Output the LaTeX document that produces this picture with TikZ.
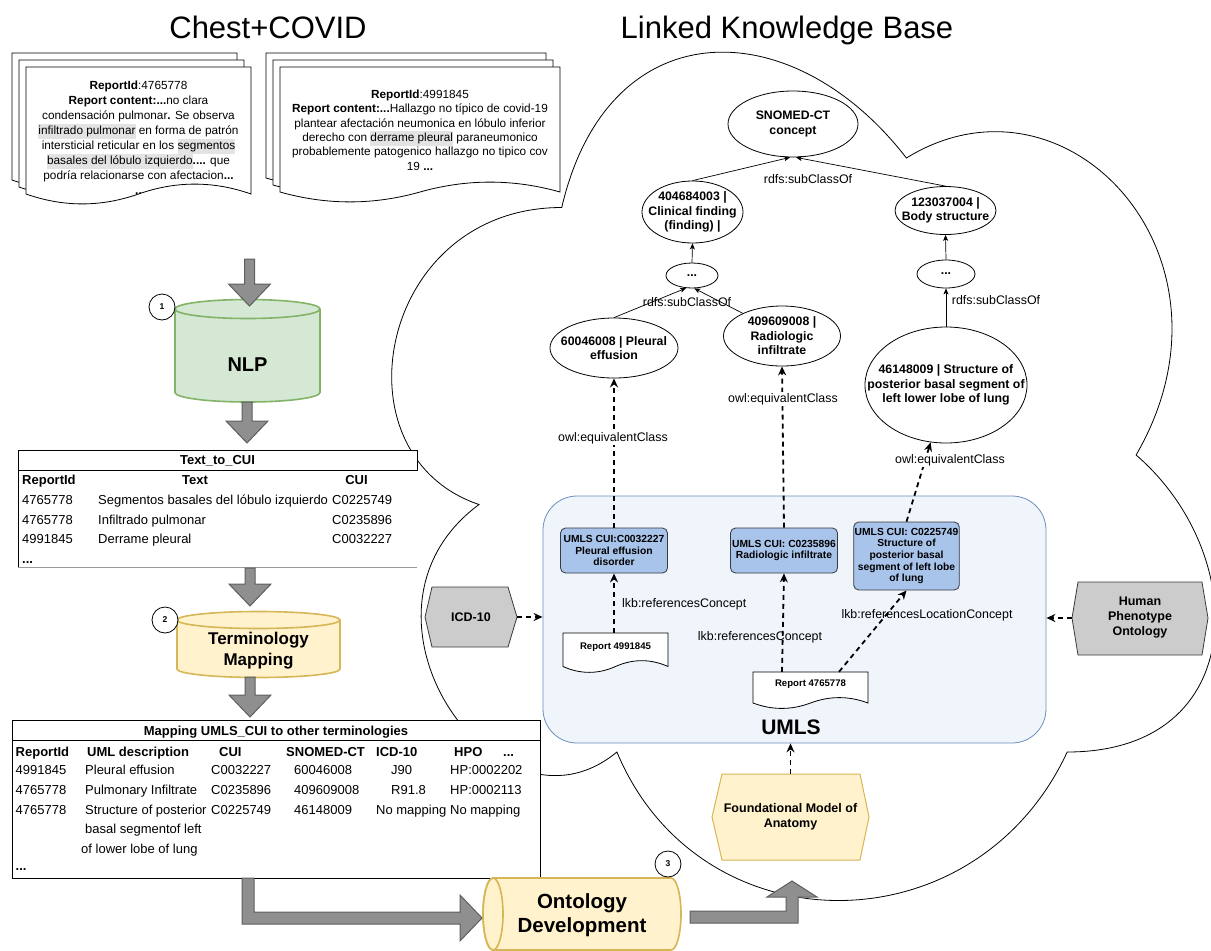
\documentclass[tikz,border=0pt]{standalone}
\usepackage{fontspec}
\setmainfont{Liberation Sans}
\usetikzlibrary{arrows.meta,shapes.geometric,positioning}

\definecolor{nlpfill}{HTML}{D5E8D4}
\definecolor{nlpline}{HTML}{82B366}
\definecolor{yelfill}{HTML}{FFF2CC}
\definecolor{yelline}{HTML}{D6B656}
\definecolor{umlsfill}{HTML}{F0F5FB}
\definecolor{umlsline}{HTML}{6C8EBF}
\definecolor{cuifill}{HTML}{A9C4EB}
\definecolor{darkline}{HTML}{36393D}
\definecolor{hexgray}{HTML}{CCCCCC}
\definecolor{arrowgray}{HTML}{8F8F8F}
\definecolor{arrowline}{HTML}{5E5E5E}
\definecolor{hlgray}{HTML}{E3E3E3}
\definecolor{rulegray}{HTML}{999999}

\newcommand{\fsz}[2]{\fontsize{#1}{#2}\selectfont}
\newcommand{\hlt}[1]{{\setlength{\fboxsep}{0pt}\colorbox{hlgray}{\strut#1}}}

% sheet with a wavy bottom: x, y, width, height, wave
\newcommand{\docsheet}[5]{%
  \draw[sheet] (#1,#2) -- ({#1+#3},#2) -- ({#1+#3},{#2+#4-0.5*#5})
    .. controls ({#1+5*#3/6},{#2+#4-1.1*#5}) and ({#1+2*#3/3},{#2+#4-1.1*#5}) .. ({#1+#3/2},{#2+#4-0.5*#5})
    .. controls ({#1+#3/3},{#2+#4+0.1*#5}) and ({#1+#3/6},{#2+#4+0.1*#5}) .. (#1,{#2+#4-0.5*#5}) -- cycle;}

% big gray arrow pointing down: centre x, top, tip
\newcommand{\blockdown}[3]{%
  \draw[blockarrow] ({#1-5},#2) -- ({#1+5},#2) -- ({#1+5},{#3-22}) -- ({#1+21},{#3-22})
    -- (#1,#3) -- ({#1-21},{#3-22}) -- ({#1-5},{#3-22}) -- cycle;}

% upright cylinder: left, right, top, bottom, y radius, fill, line
\newcommand{\cylup}[7]{%
  \filldraw[fill=#6, draw=#7, line width=1.6pt] (#1,#3) -- (#1,#4)
    arc[start angle=180, end angle=0, x radius={(#2-#1)/2}, y radius=#5] -- (#2,#3)
    arc[start angle=0, end angle=-180, x radius={(#2-#1)/2}, y radius=#5] -- cycle;
  \draw[draw=#7, line width=1.6pt] (#1,#3)
    arc[start angle=180, end angle=0, x radius={(#2-#1)/2}, y radius=#5];}

\tikzset{
  cloudline/.style={draw=black, line width=0.8pt},
  titletext/.style={anchor=base, inner sep=0pt, font=\fsz{31}{36}},
  sheet/.style={draw=black, fill=white, line width=0.8pt},
  doctext/.style={align=center, inner sep=0pt, font=\fsz{11.8}{15}},
  blockarrow/.style={draw=arrowline, fill=arrowgray, line width=1pt},
  cyltext/.style={align=center, inner sep=0pt, font=\bfseries\fsz{20}{24}},
  numcirc/.style={circle, draw=black, fill=white, line width=0.8pt, minimum size=26pt, inner sep=0pt, font=\bfseries\fsz{8.5}{10}},
  tbl/.style={anchor=base west, inner sep=0pt, font=\fsz{13}{15}},
  tblhead/.style={tbl, font=\bfseries\fsz{13}{15}},
  tblline/.style={draw=black, line width=0.8pt},
  umlsbox/.style={draw=umlsline, fill=umlsfill, line width=0.8pt, rounded corners=34pt, minimum width=503pt, minimum height=247pt},
  oval/.style={ellipse, draw=black, fill=white, line width=0.8pt, inner sep=-90pt, align=center, font=\bfseries\fsz{12.3}{14.5}},
  cuibox/.style={draw=darkline, fill=cuifill, line width=0.8pt, rounded corners=5pt, align=center, inner sep=1pt, font=\bfseries\fsz{10.3}{11.7}},
  reptext/.style={inner sep=0pt, font=\bfseries\fsz{9.6}{11}},
  hexline/.style={draw=darkline, line width=0.8pt},
  hextext/.style={align=center, inner sep=0pt, font=\bfseries\fsz{12.5}{15}},
  elabel/.style={inner sep=1pt, font=\fsz{12.4}{14}},
  subcls/.style={-{Stealth[length=6pt,width=5pt,inset=1.5pt]}, line width=0.7pt},
  refarrow/.style={-{Stealth[length=9pt,width=8pt,inset=3pt]}, line width=1.8pt, dash pattern=on 5pt off 4pt},
}

\begin{document}
\begin{tikzpicture}[x=1pt,y=-1pt]
\useasboundingbox (0,0) rectangle (1211,951);

% knowledge base cloud
\draw[cloudline] (561.75,207.5)
  .. controls (377.95,207.5) and (332,455) .. (479,504.5)
  .. controls (332,613.4) and (497.4,851) .. (616.9,752)
  .. controls (699.6,950) and (975.3,950) .. (1067.2,752)
  .. controls (1251,752) and (1251,554) .. (1136.1,455)
  .. controls (1251,257) and (1067.2,59) .. (906.4,158)
  .. controls (791.5,9.5) and (607.7,9.5) .. (561.75,207.5) -- cycle;

\node[titletext] (ttlA) at (268,38.5) {Chest+COVID};
\node[titletext] (ttlB) at (787,38.5) {Linked Knowledge Base};

% reports
\docsheet{12}{53}{225}{138}{22}
\docsheet{19}{60}{225}{138}{22}
\docsheet{26}{67}{225}{138}{22}
\node[doctext] (doc1) at (138.5,137.5) {\textbf{ReportId}:4765778\\
  \textbf{Report content:...}no clara\\
  condensación pulmonar\textbf{.} Se observa\\
  \hlt{infiltrado pulmonar} en forma de patrón\\
  intersticial reticular en los \hlt{segmentos}\\
  \hlt{basales del lóbulo izquierdo}\textbf{....} que\\
  podría relacionarse con afectacion\textbf{...}\\
  \textbf{..}};

\docsheet{266}{53}{280}{136}{22}
\docsheet{273}{60}{280}{136}{22}
\docsheet{280}{67}{280}{136}{22}
\node[doctext, font=\fsz{11.8}{14.4}] (doc2) at (420,130) {\textbf{ReportId}:4991845\\
  \textbf{Report content:...}Hallazgo no típico de covid-19\\
  plantear afectación neumonica en lóbulo inferior\\
  derecho con \hlt{derrame pleural} paraneumonico\\
  probablemente patogenico hallazgo no tipico cov\\
  19 \textbf{...}};

% step 1
\cylup{175}{320}{309}{392.5}{9.5}{nlpfill}{nlpline}
\node[cyltext] (nlp) at (247.5,365) {NLP};
\node[numcirc] (num1) at (162,307) {1};
\blockdown{249.5}{259}{306}
\blockdown{247}{402}{443}

% Text_to_CUI
\fill[white] (18,450) rectangle (417,567);
\draw[tblline] (18,470) -- (18,450) -- (417,450) -- (417,470) -- cycle;
\draw[tblline] (18,470) -- (18,567);
\draw[rulegray, line width=0.8pt] (18,567) -- (417,567);
\node[tblhead, anchor=base] (t1ttl) at (217.5,464.6) {Text\_to\_CUI};
\node[tblhead] (t1h1) at (22,484.6) {ReportId};
\node[tblhead, anchor=base] (t1h2) at (195,484.6) {Text};
\node[tblhead, anchor=base] (t1h3) at (356.5,484.6) {CUI};
\foreach \rid/\txt/\cui [count=\i] in {4765778/Segmentos basales del lóbulo izquierdo/C0225749,
    4765778/Infiltrado pulmonar/C0235896, 4991845/Derrame pleural/C0032227} {
  \node[tbl] (ta\i) at (22,{485.1+19.5*\i}) {\rid};
  \node[tbl] (tb\i) at (98,{485.1+19.5*\i}) {\txt};
  \node[tbl] (tc\i) at (332,{485.1+19.5*\i}) {\cui};
}
\node[tblhead] (t1more) at (22,563) {...};

% step 2
\cylup{177}{340}{620}{669}{8.5}{yelfill}{yelline}
\node[cyltext, font=\bfseries\fsz{17}{21}] (term) at (258.5,651) {Terminology\\Mapping};
\node[numcirc] (num2) at (165,620) {2};
\blockdown{250}{568}{606}
\blockdown{250}{677}{717}

% mapping table
\filldraw[fill=white, tblline] (12,720) rectangle (540,878);
\draw[tblline] (12,740) -- (540,740);
\node[tblhead, anchor=base] (t2ttl) at (276,735.5) {Mapping UMLS\_CUI to other terminologies};
\node[tblhead] (t2h1) at (15.5,756.3) {ReportId};
\node[tblhead] (t2h2) at (87,756.3) {UML description};
\node[tblhead] (t2h3) at (219,756.3) {CUI};
\node[tblhead] (t2h4) at (286,756.3) {SNOMED-CT};
\node[tblhead] (t2h5) at (376,756.3) {ICD-10};
\node[tblhead] (t2h6) at (454,756.3) {HPO};
\node[tblhead] (t2h7) at (503,756.3) {...};
\foreach \rid/\desc/\cui/\sct/\icx/\icd/\hpo [count=\i] in {4991845/Pleural effusion/C0032227/60046008/391/J90/HP:0002202,
    4765778/Pulmonary Infiltrate/C0235896/409609008/391/R91.8/HP:0002113,
    4765778/Structure of posterior/C0225749/46148009/376/No mapping/No mapping} {
  \node[tbl] (ma\i) at (15.5,{754.6+20*\i}) {\rid};
  \node[tbl] (mb\i) at (85,{754.6+20*\i}) {\desc};
  \node[tbl] (mc\i) at (211,{754.6+20*\i}) {\cui};
  \node[tbl] (md\i) at (294,{754.6+20*\i}) {\sct};
  \node[tbl] (me\i) at (\icx,{754.6+20*\i}) {\icd};
  \node[tbl] (mf\i) at (450,{754.6+20*\i}) {\hpo};
}
\node[tbl] (mb3b) at (85,833.2) {basal segmentof left};
\node[tbl] (mb3c) at (81,853.2) {of lower lobe of lung};
\node[tblhead] (t2more) at (15.5,870.5) {...};

% step 3
\filldraw[fill=yelfill, draw=yelline, line width=1.6pt] (493,878) -- (671,878)
  arc[start angle=-90, end angle=90, x radius=10, y radius=36] -- (493,950)
  arc[start angle=90, end angle=270, x radius=10, y radius=36] -- cycle;
\draw[yelline, line width=1.6pt] (493,914) ellipse[x radius=10, y radius=36];
\node[cyltext, font=\bfseries\fsz{20.5}{24}] (ontdev) at (582,915) {Ontology\\Development};
\node[numcirc] (num3) at (668,864) {3};
\draw[blockarrow] (242,878) -- (242,924) -- (460,924) -- (460,941) -- (482,918)
  -- (460,895) -- (460,912) -- (254,912) -- (254,878) -- cycle;
\draw[blockarrow] (690,911) -- (786,911) -- (786,897) -- (767,897) -- (792,881)
  -- (817,897) -- (798,897) -- (798,923) -- (690,923) -- cycle;

% UMLS
\node[umlsbox] (umls) at (794.5,619.5) {};
\node[font=\bfseries\fsz{21}{24}, inner sep=0pt] (umlslbl) at (791,727) {UMLS};

% SNOMED-CT hierarchy
\node[oval, minimum width=130, minimum height=66] (snomed) at (793,124) {SNOMED-CT\\concept};
\node[oval, minimum width=101, minimum height=62] (clin) at (692.5,212) {404684003 |\\Clinical finding\\(finding) |};
\node[oval, minimum width=101, minimum height=48] (body) at (945.5,210.5) {123037004 |\\Body structure};
\node[oval, minimum width=52, minimum height=25] (dotsL) at (692,275.5) {...};
\node[oval, minimum width=58, minimum height=28] (dotsR) at (946,274) {...};
\node[oval, minimum width=128, minimum height=60] (pleu) at (614,348) {60046008 | Pleural\\effusion};
\node[oval, minimum width=117, minimum height=60] (radio) at (782,336) {409609008 |\\Radiologic\\infiltrate};
\node[oval, minimum width=162, minimum height=116] (lobe) at (946,385) {46148009 | Structure of\\posterior basal segment of\\left lower lobe of lung};

\draw[subcls] (clin.north) -- (snomed.-95);
\draw[subcls] (body.north) -- (snomed.-85);
\draw[subcls] (dotsL.north) -- (clin.south);
\draw[subcls] (dotsR.north) -- (body.south);
\draw[subcls] (pleu.north) -- (dotsL.-115);
\draw[subcls] (radio.150) -- (dotsL.-80);
\draw[subcls] (lobe.north) -- (dotsR.south);
\node[elabel] (sco1) at (808,179) {rdfs:subClassOf};
\node[elabel] (sco2) at (687,302) {rdfs:subClassOf};
\node[elabel] (sco3) at (996,300) {rdfs:subClassOf};

% UMLS concepts and reports
\node[cuibox, minimum width=107, minimum height=45] (cui1) at (614,550.5) {UMLS CUI:C0032227\\Pleural effusion\\disorder};
\node[cuibox, minimum width=107, minimum height=45] (cui2) at (784,550.5) {UMLS CUI: C0235896\\Radiologic infiltrate};
\node[cuibox, minimum width=102, minimum height=68] (cui3) at (906.5,556) {UMLS CUI: C0225749\\Structure of\\posterior basal\\segment of left lobe\\of lung};

\docsheet{563}{633}{105}{40}{13}
\node[reptext, minimum width=105, minimum height=28] (rep1) at (615.5,647) {Report 4991845};
\docsheet{753}{672}{115}{37}{12}
\node[reptext, minimum width=115, minimum height=24] (rep2) at (810.5,684) {Report 4765778};

\draw[refarrow] (rep1.north -| cui1.south) -- (cui1.south);
\draw[refarrow] ([xshift=-28.5pt]rep2.north) -- (cui2.south);
\draw[refarrow] ([xshift=28.5pt]rep2.north) -- (cui3.south);
\draw[refarrow] (cui1.north) -- (pleu.south);
\draw[refarrow] (cui2.north) -- (radio.south);
\draw[refarrow] (cui3.north) -- (lobe.-105);
\node[elabel, anchor=west] (lk1) at (621,604) {lkb:referencesConcept};
\node[elabel] (lk2) at (760,637) {lkb:referencesConcept};
\node[elabel] (lk3) at (927,615) {lkb:referencesLocationConcept};
\node[elabel, fill=white] (eq1) at (613,438) {owl:equivalentClass};
\node[elabel, fill=white] (eq2) at (783,399) {owl:equivalentClass};
\node[elabel, fill=white] (eq3) at (950,460) {owl:equivalentClass};

% other terminologies
\draw[hexline, fill=hexgray] (425,617) -- (432,587) -- (508,587) -- (517,617) -- (508,647) -- (432,647) -- cycle;
\node[hextext, minimum width=92, minimum height=60] (icd) at (471,617) {ICD-10};
\draw[hexline, fill=hexgray] (1072,618) -- (1078,582) -- (1202,582) -- (1208,618) -- (1202,655) -- (1078,655) -- cycle;
\node[hextext, minimum width=136, minimum height=73] (hpo) at (1140,618) {Human\\Phenotype\\Ontology};
\draw[draw=yelline, line width=1pt, fill=yelfill] (712,817) -- (722,774) -- (860,774) -- (869,817) -- (860,860) -- (722,860) -- cycle;
\node[hextext, minimum width=157, minimum height=86] (fma) at (790.5,817) {Foundational Model of\\Anatomy};

\draw[refarrow] (icd.east) -- (icd.east -| umls.west);
\draw[refarrow] (hpo.west) -- (hpo.west -| umls.east);
\draw[refarrow] (fma.north) -- (fma.north |- umls.south);
\end{tikzpicture}
\end{document}
